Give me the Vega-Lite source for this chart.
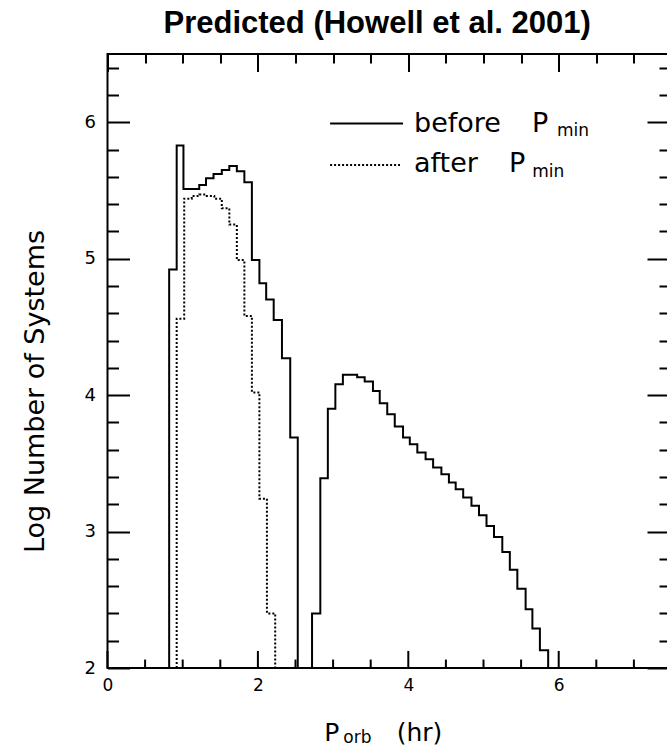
{
  "$schema": "https://vega.github.io/schema/vega-lite/v6.json",
  "width": 562.5,
  "height": 614,
  "autosize": "none",
  "padding": {"left": 107.5, "top": 54, "right": -3, "bottom": 78},
  "background": "white",
  "title": {"text": "Predicted (Howell et al. 2001)", "font": "Liberation Sans", "fontSize": 31, "fontWeight": "bold", "color": "black", "anchor": "start", "frame": "group", "baseline": "alphabetic", "offset": 19, "dx": 56, "dy": 30},
  "config": {
    "view": {"stroke": "black", "strokeWidth": 2},
    "axis": {"domain": false, "tickColor": "black", "tickWidth": 2, "labelColor": "black", "grid": false, "labelFlush": false, "labelOverlap": false, "zindex": 1}
  },
  "datasets": {
    "hist": [
      {"s": "before", "p": 1, "i": 0, "x": 0.82, "y": 2},
      {"s": "before", "p": 1, "i": 1, "x": 0.82, "y": 4.92},
      {"s": "before", "p": 1, "i": 2, "x": 0.92, "y": 5.83},
      {"s": "before", "p": 1, "i": 3, "x": 1.01, "y": 5.51},
      {"s": "before", "p": 1, "i": 4, "x": 1.11, "y": 5.51},
      {"s": "before", "p": 1, "i": 5, "x": 1.22, "y": 5.54},
      {"s": "before", "p": 1, "i": 6, "x": 1.31, "y": 5.59},
      {"s": "before", "p": 1, "i": 7, "x": 1.41, "y": 5.62},
      {"s": "before", "p": 1, "i": 8, "x": 1.52, "y": 5.65},
      {"s": "before", "p": 1, "i": 9, "x": 1.62, "y": 5.68},
      {"s": "before", "p": 1, "i": 10, "x": 1.72, "y": 5.64},
      {"s": "before", "p": 1, "i": 11, "x": 1.82, "y": 5.56},
      {"s": "before", "p": 1, "i": 12, "x": 1.92, "y": 4.99},
      {"s": "before", "p": 1, "i": 13, "x": 2.02, "y": 4.82},
      {"s": "before", "p": 1, "i": 14, "x": 2.11, "y": 4.70},
      {"s": "before", "p": 1, "i": 15, "x": 2.21, "y": 4.55},
      {"s": "before", "p": 1, "i": 16, "x": 2.32, "y": 4.27},
      {"s": "before", "p": 1, "i": 17, "x": 2.43, "y": 3.69},
      {"s": "before", "p": 1, "i": 18, "x": 2.53, "y": 2},
      {"s": "before", "p": 2, "i": 0, "x": 2.72, "y": 2},
      {"s": "before", "p": 2, "i": 1, "x": 2.72, "y": 2.40},
      {"s": "before", "p": 2, "i": 2, "x": 2.83, "y": 3.39},
      {"s": "before", "p": 2, "i": 3, "x": 2.93, "y": 3.90},
      {"s": "before", "p": 2, "i": 4, "x": 3.03, "y": 4.08},
      {"s": "before", "p": 2, "i": 5, "x": 3.13, "y": 4.15},
      {"s": "before", "p": 2, "i": 6, "x": 3.23, "y": 4.15},
      {"s": "before", "p": 2, "i": 7, "x": 3.32, "y": 4.13},
      {"s": "before", "p": 2, "i": 8, "x": 3.42, "y": 4.10},
      {"s": "before", "p": 2, "i": 9, "x": 3.53, "y": 4.03},
      {"s": "before", "p": 2, "i": 10, "x": 3.62, "y": 3.94},
      {"s": "before", "p": 2, "i": 11, "x": 3.72, "y": 3.86},
      {"s": "before", "p": 2, "i": 12, "x": 3.82, "y": 3.77},
      {"s": "before", "p": 2, "i": 13, "x": 3.93, "y": 3.69},
      {"s": "before", "p": 2, "i": 14, "x": 4.02, "y": 3.64},
      {"s": "before", "p": 2, "i": 15, "x": 4.12, "y": 3.58},
      {"s": "before", "p": 2, "i": 16, "x": 4.23, "y": 3.53},
      {"s": "before", "p": 2, "i": 17, "x": 4.33, "y": 3.47},
      {"s": "before", "p": 2, "i": 18, "x": 4.44, "y": 3.42},
      {"s": "before", "p": 2, "i": 19, "x": 4.54, "y": 3.36},
      {"s": "before", "p": 2, "i": 20, "x": 4.63, "y": 3.31},
      {"s": "before", "p": 2, "i": 21, "x": 4.73, "y": 3.25},
      {"s": "before", "p": 2, "i": 22, "x": 4.84, "y": 3.19},
      {"s": "before", "p": 2, "i": 23, "x": 4.94, "y": 3.12},
      {"s": "before", "p": 2, "i": 24, "x": 5.04, "y": 3.04},
      {"s": "before", "p": 2, "i": 25, "x": 5.14, "y": 2.96},
      {"s": "before", "p": 2, "i": 26, "x": 5.25, "y": 2.85},
      {"s": "before", "p": 2, "i": 27, "x": 5.35, "y": 2.72},
      {"s": "before", "p": 2, "i": 28, "x": 5.45, "y": 2.58},
      {"s": "before", "p": 2, "i": 29, "x": 5.56, "y": 2.43},
      {"s": "before", "p": 2, "i": 30, "x": 5.65, "y": 2.29},
      {"s": "before", "p": 2, "i": 31, "x": 5.75, "y": 2.13},
      {"s": "before", "p": 2, "i": 32, "x": 5.86, "y": 2},
      {"s": "after", "p": 3, "i": 0, "x": 0.92, "y": 2},
      {"s": "after", "p": 3, "i": 1, "x": 0.92, "y": 4.56},
      {"s": "after", "p": 3, "i": 2, "x": 1.02, "y": 5.44},
      {"s": "after", "p": 3, "i": 3, "x": 1.12, "y": 5.46},
      {"s": "after", "p": 3, "i": 4, "x": 1.22, "y": 5.47},
      {"s": "after", "p": 3, "i": 5, "x": 1.32, "y": 5.46},
      {"s": "after", "p": 3, "i": 6, "x": 1.42, "y": 5.44},
      {"s": "after", "p": 3, "i": 7, "x": 1.52, "y": 5.37},
      {"s": "after", "p": 3, "i": 8, "x": 1.62, "y": 5.25},
      {"s": "after", "p": 3, "i": 9, "x": 1.72, "y": 4.99},
      {"s": "after", "p": 3, "i": 10, "x": 1.82, "y": 4.58},
      {"s": "after", "p": 3, "i": 11, "x": 1.92, "y": 4.02},
      {"s": "after", "p": 3, "i": 12, "x": 2.02, "y": 3.24},
      {"s": "after", "p": 3, "i": 13, "x": 2.12, "y": 2.40},
      {"s": "after", "p": 3, "i": 14, "x": 2.23, "y": 2}
    ],
    "key": [
      {"s": "before", "x": 2.96, "x2": 3.93, "y": 5.99},
      {"s": "after", "x": 2.96, "x2": 3.89, "y": 5.686}
    ],
    "keytext": [
      {"x": 4.076, "y": 5.93, "t": "before"},
      {"x": 5.645, "y": 5.93, "t": "P"},
      {"x": 4.076, "y": 5.636, "t": "after"},
      {"x": 5.339, "y": 5.636, "t": "P"}
    ],
    "xtitle": [
      {"x": 2.883, "y": 1.467, "t": "P"},
      {"x": 3.846, "y": 1.467, "t": "(hr)"}
    ],
    "subtext": [
      {"x": 5.977, "y": 5.898, "t": "min"},
      {"x": 5.649, "y": 5.6, "t": "min"},
      {"x": 3.136, "y": 1.45, "t": "orb"}
    ],
    "majorx": [{"x": 0}, {"x": 2}, {"x": 4}, {"x": 6}],
    "minorx": [{"x": 0.5}, {"x": 1}, {"x": 1.5}, {"x": 2.5}, {"x": 3}, {"x": 3.5}, {"x": 4.5}, {"x": 5}, {"x": 5.5}, {"x": 6.5}, {"x": 7}]
  },
  "layer": [
    {
      "data": {"name": "xtitle"},
      "mark": {"type": "text", "font": "DejaVu Sans", "fontSize": 25, "align": "left", "baseline": "alphabetic", "color": "black"},
      "encoding": {
        "x": {"field": "x", "type": "quantitative",
          "scale": {"domain": [0, 7.48], "nice": false, "zero": false},
          "axis": {"orient": "bottom", "zindex": 0, "values": [0, 2, 4, 6], "ticks": false,
            "labelPadding": 9, "labelFont": "DejaVu Sans", "labelFontSize": 17, "title": null}},
        "y": {"field": "y", "type": "quantitative", "scale": {"domain": [2, 6.5], "nice": false, "zero": false}, "axis": null},
        "text": {"field": "t"}
      }
    },
    {
      "data": {"name": "hist"},
      "mark": {"type": "line", "interpolate": "step-after", "color": "black", "strokeWidth": 2},
      "encoding": {
        "x": {"field": "x", "type": "quantitative",
          "scale": {"domain": [0, 7.48], "nice": false, "zero": false}, "axis": null},
        "y": {"field": "y", "type": "quantitative",
          "scale": {"domain": [2, 6.5], "nice": false, "zero": false},
          "axis": {"orient": "left", "values": [2, 2.2, 2.4, 2.6, 2.8, 3, 3.2, 3.4, 3.6, 3.8, 4, 4.2, 4.4, 4.6, 4.8, 5, 5.2, 5.4, 5.6, 5.8, 6, 6.2, 6.4],
            "tickSize": {"condition": {"test": "datum.value % 1 === 0", "value": -22}, "value": -11},
            "labelExpr": "datum.value % 1 === 0 ? '' + datum.value : ''",
            "labelPadding": 34, "labelFont": "DejaVu Sans", "labelFontSize": 18,
            "title": "Log Number of Systems", "titleFont": "DejaVu Sans", "titleFontSize": 27, "titleFontWeight": "normal", "titleColor": "black",
            "titleAngle": -90, "titleX": -72, "titleY": 337, "titleAlign": "center", "titleBaseline": "middle"}},
        "strokeDash": {"field": "s", "type": "nominal", "scale": {"domain": ["before", "after"], "range": [[1, 0], [2, 2]]}, "legend": null},
        "detail": {"field": "p", "type": "nominal"},
        "order": {"field": "i", "type": "quantitative"}
      }
    },
    {
      "data": {"name": "key"},
      "mark": {"type": "rule", "color": "black", "strokeWidth": 2},
      "encoding": {
        "x": {"field": "x", "type": "quantitative",
          "scale": {"domain": [0, 7.48], "nice": false, "zero": false},
          "axis": {"orient": "top", "values": [0, 0.5, 1, 1.5, 2, 2.5, 3, 3.5, 4, 4.5, 5, 5.5, 6, 6.5, 7],
            "tickSize": {"condition": {"test": "datum.value % 2 === 0", "value": -17.5}, "value": -9},
            "labels": false, "title": null}},
        "x2": {"field": "x2"},
        "y": {"field": "y", "type": "quantitative",
          "scale": {"domain": [2, 6.5], "nice": false, "zero": false},
          "axis": {"orient": "right", "offset": -3, "values": [2, 2.2, 2.4, 2.6, 2.8, 3, 3.2, 3.4, 3.6, 3.8, 4, 4.2, 4.4, 4.6, 4.8, 5, 5.2, 5.4, 5.6, 5.8, 6, 6.2, 6.4],
            "tickSize": {"condition": {"test": "datum.value % 1 === 0", "value": -20}, "value": -8},
            "labels": false, "title": null}},
        "strokeDash": {"field": "s", "type": "nominal", "scale": {"domain": ["before", "after"], "range": [[1, 0], [2, 2]]}, "legend": null}
      }
    },
    {
      "data": {"name": "keytext"},
      "mark": {"type": "text", "font": "DejaVu Sans", "fontSize": 27, "align": "left", "baseline": "alphabetic", "color": "black"},
      "encoding": {
        "x": {"field": "x", "type": "quantitative", "scale": {"domain": [0, 7.48], "nice": false, "zero": false}, "axis": null},
        "y": {"field": "y", "type": "quantitative", "scale": {"domain": [2, 6.5], "nice": false, "zero": false}, "axis": null},
        "text": {"field": "t"}
      }
    },
    {
      "data": {"name": "subtext"},
      "mark": {"type": "text", "font": "DejaVu Sans", "fontSize": 17, "align": "left", "baseline": "alphabetic", "color": "black"},
      "encoding": {
        "x": {"field": "x", "type": "quantitative", "scale": {"domain": [0, 7.48], "nice": false, "zero": false}, "axis": null},
        "y": {"field": "y", "type": "quantitative", "scale": {"domain": [2, 6.5], "nice": false, "zero": false}, "axis": null},
        "text": {"field": "t"}
      }
    },
    {
      "data": {"name": "majorx"},
      "mark": {"type": "rule", "color": "black", "strokeWidth": 2},
      "encoding": {
        "x": {"field": "x", "type": "quantitative", "scale": {"domain": [0, 7.48], "nice": false, "zero": false}, "axis": null},
        "y": {"datum": 2, "type": "quantitative", "scale": {"domain": [2, 6.5], "nice": false, "zero": false}, "axis": null},
        "y2": {"datum": 2.125}
      }
    },
    {
      "data": {"name": "minorx"},
      "mark": {"type": "rule", "color": "black", "strokeWidth": 2},
      "encoding": {
        "x": {"field": "x", "type": "quantitative", "scale": {"domain": [0, 7.48], "nice": false, "zero": false}, "axis": null},
        "y": {"datum": 2, "type": "quantitative", "scale": {"domain": [2, 6.5], "nice": false, "zero": false}, "axis": null},
        "y2": {"datum": 2.062}
      }
    },
    {
      "data": {"values": [{"x": 0, "x2": 7.48}]},
      "mark": {"type": "rule", "color": "black", "strokeWidth": 2},
      "encoding": {
        "x": {"field": "x", "type": "quantitative", "scale": {"domain": [0, 7.48], "nice": false, "zero": false}, "axis": null},
        "x2": {"field": "x2"},
        "y": {"datum": 2, "type": "quantitative", "scale": {"domain": [2, 6.5], "nice": false, "zero": false}, "axis": null}
      }
    }
  ],
  "resolve": {"axis": {"x": "independent", "y": "independent"}}
}
